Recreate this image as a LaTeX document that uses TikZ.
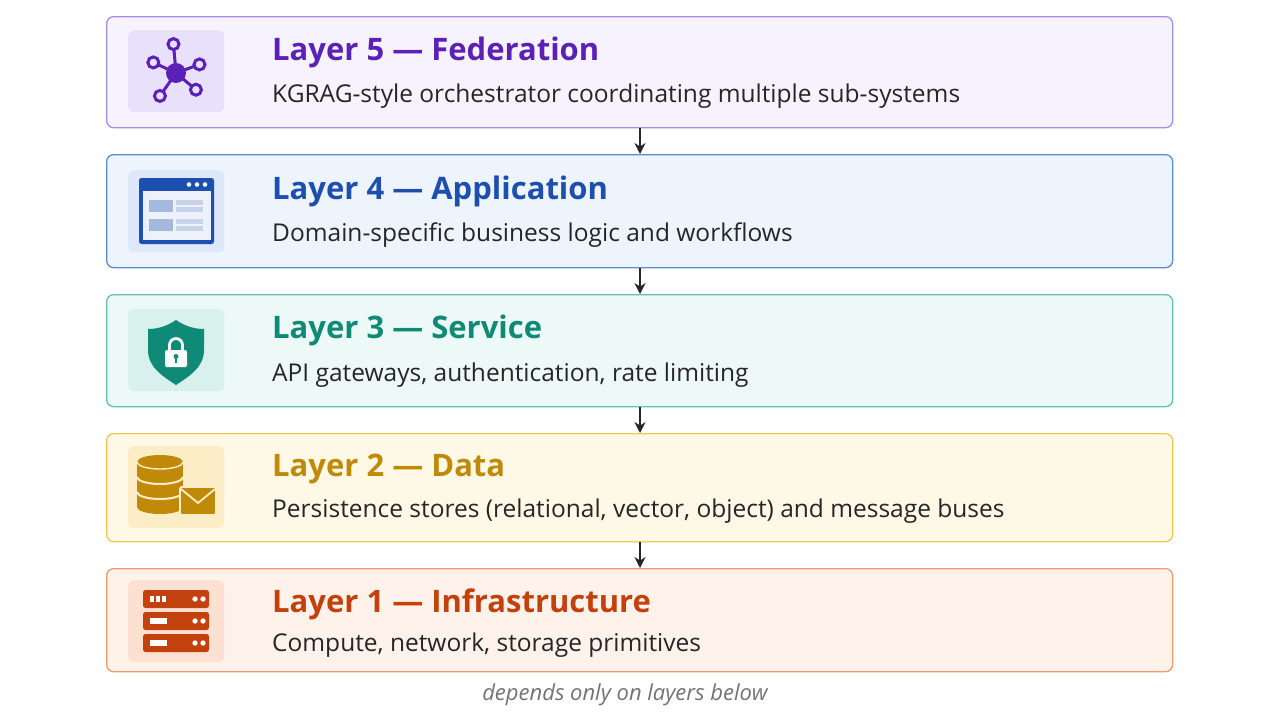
\documentclass[tikz,border=0pt]{standalone}
\usepackage{fontspec}
\setmainfont{Open Sans}
\usetikzlibrary{arrows.meta}
\begin{document}
\begin{tikzpicture}[x=1pt,y=-1pt,
  layer/.style={draw=#1,line width=1.3pt,rounded corners=7pt,anchor=north west,inner sep=0},
  iconbg/.style={rounded corners=6pt,anchor=north west,inner sep=0,minimum width=96,minimum height=82},
  ttl/.style={anchor=west,font=\fontsize{31}{34}\selectfont\bfseries,inner sep=0},
  sub/.style={anchor=west,font=\fontsize{24.5}{28}\selectfont,text=black!85,inner sep=0},
  arr/.style={-{Stealth[length=11pt,width=11pt]},line width=2.2pt,black!85},
  captxt/.style={anchor=center,font=\fontsize{22}{26}\selectfont\itshape,text=black!55,inner sep=0}]
\definecolor{c5}{HTML}{5B21B6}\definecolor{b5}{HTML}{A98BE8}\definecolor{f5}{HTML}{F6F3FE}\definecolor{i5}{HTML}{E9E1FB}
\definecolor{c4}{HTML}{1D4FAE}\definecolor{b4}{HTML}{5C8CCF}\definecolor{f4}{HTML}{EEF4FC}\definecolor{i4}{HTML}{DDE8FA}
\definecolor{c3}{HTML}{0F8A76}\definecolor{b3}{HTML}{5EC3B4}\definecolor{f3}{HTML}{EDF9F6}\definecolor{i3}{HTML}{D8F1EC}
\definecolor{c2}{HTML}{C08A08}\definecolor{b2}{HTML}{F0C850}\definecolor{f2}{HTML}{FEF8E6}\definecolor{i2}{HTML}{FCEDC6}
\definecolor{c1}{HTML}{C2410C}\definecolor{b1}{HTML}{EE9A6A}\definecolor{f1}{HTML}{FEF2EB}\definecolor{i1}{HTML}{FCE0D2}
\useasboundingbox[fill=white] (0,0) rectangle (1280,720);
% boxes
\node[layer=b5,fill=f5,minimum width=1066,minimum height=111] (L5) at (106,16) {};
\node[layer=b4,fill=f4,minimum width=1066,minimum height=113] (L4) at (106,154) {};
\node[layer=b3,fill=f3,minimum width=1066,minimum height=112] (L3) at (106,294) {};
\node[layer=b2,fill=f2,minimum width=1066,minimum height=108] (L2) at (106,433) {};
\node[layer=b1,fill=f1,minimum width=1066,minimum height=103] (L1) at (106,568) {};
\node[iconbg,fill=i5] (I5) at (128,30) {};
\node[iconbg,fill=i4] (I4) at (128,170) {};
\node[iconbg,fill=i3] (I3) at (128,309) {};
\node[iconbg,fill=i2] (I2) at (128,446) {};
\node[iconbg,fill=i1] (I1) at (128,580) {};
% texts
\node[ttl,text=c5] (T5) at (272,52) {Layer 5 — Federation};
\node[sub] (S5) at (272,96) {KGRAG-style orchestrator coordinating multiple sub-systems};
\node[ttl,text=c4] (T4) at (272,191) {Layer 4 — Application};
\node[sub] (S4) at (272,235) {Domain-specific business logic and workflows};
\node[ttl,text=c3] (T3) at (272,330) {Layer 3 — Service};
\node[sub] (S3) at (272,375) {API gateways, authentication, rate limiting};
\node[ttl,text=c2] (T2) at (272,469) {Layer 2 — Data};
\node[sub] (S2) at (272,511) {Persistence stores (relational, vector, object) and message buses};
\node[ttl,text=c1] (T1) at (272,604) {Layer 1 — Infrastructure};
\node[sub] (S1) at (272,645) {Compute, network, storage primitives};
\node[captxt] (C) at (625,695) {depends only on layers below};
% arrows
\coordinate (ax) at (640,0);
\draw[arr] (L5.south -| ax) -- (L4.north -| ax);
\draw[arr] (L4.south -| ax) -- (L3.north -| ax);
\draw[arr] (L3.south -| ax) -- (L2.north -| ax);
\draw[arr] (L2.south -| ax) -- (L1.north -| ax);
% icon 5: hub
\begin{scope}[shift={(176,73)}]
 \foreach \a/\r in {95/29,20/25,-40/26,-125/28,155/25}{
   \draw[c5,line width=3pt] (0,0) -- ({\r*cos(\a)},{-\r*sin(\a)});
   \draw[c5,line width=3pt,fill=i5] ({\r*cos(\a)},{-\r*sin(\a)}) circle (5.5);}
 \fill[c5] (0,0) circle (10);
\end{scope}
% icon 4: window
\begin{scope}[shift={(139,178)}]
 \fill[c4,rounded corners=2.5pt] (0,0) rectangle (75,66);
 \fill[white!92!c4] (3.5,13) rectangle (71.5,62);
 \foreach \x in {50,58,66} \fill[white] (\x,6.5) circle (2.3);
 \fill[c4!40] (10,22) rectangle (34,34); \fill[c4!40] (10,41) rectangle (34,53);
 \foreach \y in {22,29,41,48} \fill[c4!25] (37,\y) rectangle (64,\y+5);
\end{scope}
% icon 3: shield
\begin{scope}[shift={(176,350)}]
 \fill[c3] (0,-30) .. controls (10,-23) and (20,-21) .. (28,-21) -- (28,0) .. controls (28,18) and (12,27) .. (0,35) .. controls (-12,27) and (-28,18) .. (-28,0) -- (-28,-21) .. controls (-20,-21) and (-10,-23) .. (0,-30) -- cycle;
 \draw[white,line width=2.8pt] (-6.5,2) -- (-6.5,-5) arc (180:360:6.5) -- (6.5,2);
 \fill[white,rounded corners=1.5pt] (-11,0) rectangle (11,17);
 \fill[c3] (0,6.5) circle (2.5); \fill[c3] (-1.1,6.5) rectangle (1.1,12.5);
\end{scope}
% icon 2: database + mail
\begin{scope}[shift={(160,462)}]
 \fill[c2] (-23,0) rectangle (23,45);
 \fill[c2] (0,45) ellipse (23 and 7);
 \fill[c2] (0,0) ellipse (23 and 7);
 \draw[i2,line width=1.4pt] (-23,0) arc (180:0:23 and 7);
 \draw[i2,line width=2pt] (-23,15) arc (180:0:23 and 7);
 \draw[i2,line width=2pt] (-23,30) arc (180:0:23 and 7);
 \fill[c2,draw=i2,line width=1.8pt,rounded corners=1.5pt] (20,25) rectangle (56,53);
 \draw[i2,line width=1.8pt] (21,27) -- (38,41) -- (55,27);
\end{scope}
% icon 1: server rack
\begin{scope}[shift={(143,590)}]
 \foreach \y in {0,22,44}{\fill[c1,rounded corners=2.5pt] (0,\y) rectangle (66,\y+18);
   \fill[white] (52,\y+9) circle (2.7); \fill[white] (60,\y+9) circle (2.7);}
 \fill[white] (7,6) rectangle (11,12); \fill[white] (13,6) rectangle (17,12); \fill[white] (19,6) rectangle (23,12);
 \fill[white] (7,28) rectangle (24,34); \fill[white] (7,50) rectangle (24,56);
\end{scope}
\end{tikzpicture}
\end{document}
